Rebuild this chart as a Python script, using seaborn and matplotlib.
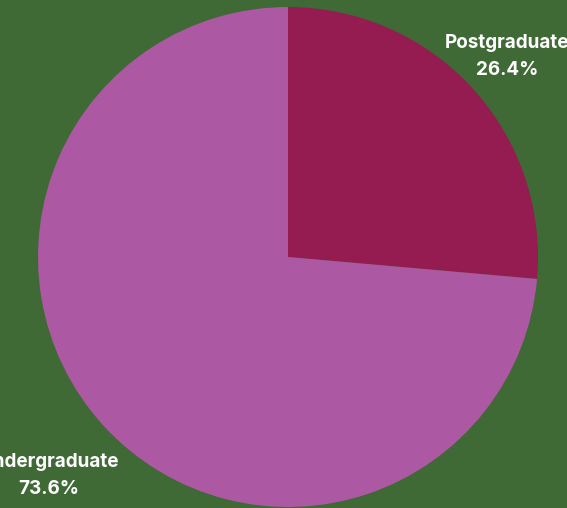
import numpy as np
import matplotlib
matplotlib.use("Agg")
import matplotlib.pyplot as plt
import seaborn as sns

categories = ["Postgraduate", "Undergraduate"]
shares = [26.4, 73.6]
colors = ["#951c50", "#ac58a2"]
bg = "#3f6935"

sns.set_theme(style="white")
plt.rcParams["font.family"] = ["Inter", "DejaVu Sans"]

fig = plt.figure(figsize=(5.67, 5.08), dpi=100, facecolor=bg)
ax = fig.add_axes([38 / 567, 1 / 508, 500 / 567, 500 / 508])
ax.set_facecolor(bg)

wedges, _ = ax.pie(shares, colors=colors, startangle=90, counterclock=False,
                   radius=1.0, wedgeprops=dict(linewidth=0))
ax.set_xlim(-1, 1)
ax.set_ylim(-1, 1)
ax.set_aspect("equal")
ax.axis("off")

label_dist = [1.19, 1.295]
for w, cat, val, d in zip(wedges, categories, shares, label_dist):
    ang = np.deg2rad((w.theta1 + w.theta2) / 2)
    x, y = d * np.cos(ang), d * np.sin(ang)
    ax.text(x, y, f"{cat}\n{val:.1f}%", ha="center", va="center", color="white",
            fontsize=13.6, fontweight="bold", linespacing=1.65, clip_on=False)

fig.savefig("out.png", dpi=100, facecolor=bg)
